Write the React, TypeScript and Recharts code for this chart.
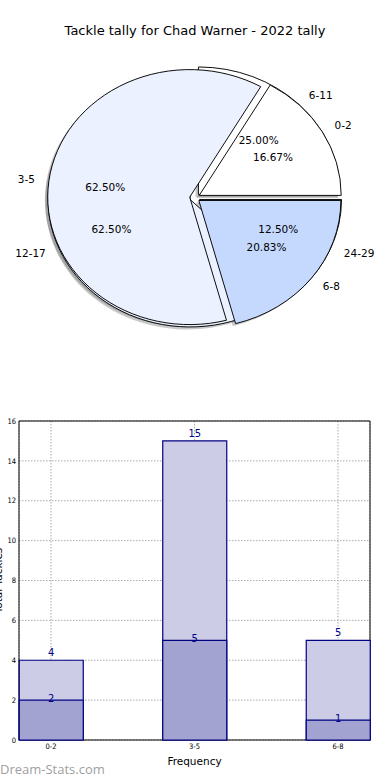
import React from 'react';
import {
  PieChart,
  Pie,
  Cell,
  BarChart,
  Bar,
  XAxis,
  YAxis,
  CartesianGrid,
  LabelList,
  ReferenceArea,
} from 'recharts';

// ---------- data ----------
const chartTitle = 'Tackle tally for Chad Warner - 2022 tally';
const outerCategories = ['0-2', '3-5', '6-8'];
const outerValues = [4, 15, 5];
const innerCategories = ['6-11', '12-17', '24-29'];
const innerValues = [2, 5, 1];
const sliceColors = ['#ffffff', '#ebf1ff', '#c5d9ff'];
const yTicks = [0, 2, 4, 6, 8, 10, 12, 14, 16];
const xTickPositions = [0, 1, 2];
const xAxisLabel = 'Frequency';
const yAxisLabel = 'Total Tackles';
const watermark = 'Dream-Stats.com';

// ---------- styling / geometry ----------
const FONT = "'DejaVu Sans', sans-serif";
const COND = "'DejaVu Sans Condensed', 'DejaVu Sans', sans-serif";
const R = 142;
const K = 127.5 / 142; // vertical squash of the pie
const CX = 194.8;
const CY = 197.7 / K;
const EXPLODE = 0.036;
const SHADOW = 0.02;
const RAD = Math.PI / 180;
const PIE_H = 400 / K;

const outerRows = outerCategories.map((name, i) => ({ name, value: outerValues[i] }));
const innerRows = innerCategories.map((name, i) => ({ name, value: innerValues[i] }));
const barRows = outerCategories.map((name, i) => ({
  pos: xTickPositions[i],
  name,
  total: outerValues[i],
  part: innerValues[i],
}));

function midAngles(values: number[]) {
  const total = values.reduce((a, b) => a + b, 0);
  let acc = 0;
  return values.map((v) => {
    const m = ((acc + v / 2) / total) * 360;
    acc += v;
    return m;
  });
}

function slicePies(prefix: string, rows: any[], values: number[], mode: 'shadow' | 'wedge') {
  const mids = midAngles(values);
  return mids.map((m, i) => {
    const ox = EXPLODE * R * Math.cos(m * RAD) + (mode === 'shadow' ? -SHADOW * R : 0);
    const oy = -EXPLODE * R * Math.sin(m * RAD) + (mode === 'shadow' ? SHADOW * R : 0);
    return (
      <Pie
        key={`${prefix}-${mode}-${i}`}
        data={rows}
        dataKey="value"
        nameKey="name"
        cx={CX + ox}
        cy={CY + oy}
        innerRadius={0}
        outerRadius={R}
        startAngle={0}
        endAngle={360}
        isAnimationActive={false}
        label={false}
        labelLine={false}
      >
        {rows.map((_r, j) => (
          <Cell
            key={j}
            fill={j === i ? (mode === 'shadow' ? '#4d4d4d' : sliceColors[j]) : 'none'}
            fillOpacity={mode === 'shadow' ? 0.3 : 1}
            stroke={j === i && mode === 'wedge' ? '#000' : 'none'}
            strokeWidth={1}
          />
        ))}
      </Pie>
    );
  });
}

const renderPieLabel = (props: any) => {
  const { cx, cy, midAngle, percent, name } = props;
  const c = Math.cos(midAngle * RAD);
  const s = Math.sin(midAngle * RAD);
  const ecx = cx + EXPLODE * R * c;
  const ecy = cy - EXPLODE * R * s;
  const lx = ecx + 1.1 * R * c;
  const ly = ecy - 1.1 * R * s;
  const px = ecx + 0.6 * R * c;
  const py = ecy - 0.6 * R * s;
  return (
    <g>
      <text
        transform={`translate(${lx},${ly}) scale(1,${1 / K})`}
        textAnchor={c > 0 ? 'start' : 'end'}
        dominantBaseline="central"
        fontSize={10.5}
        fontFamily={FONT}
        fill="#000"
      >
        {name}
      </text>
      <text
        transform={`translate(${px},${py}) scale(1,${1 / K})`}
        textAnchor="middle"
        dominantBaseline="central"
        fontSize={10.5}
        fontFamily={FONT}
        fill="#000"
      >
        {(percent * 100).toFixed(2) + '%'}
      </text>
    </g>
  );
};

function labelPie(key: string, rows: any[]) {
  return (
    <Pie
      key={key}
      data={rows}
      dataKey="value"
      nameKey="name"
      cx={CX}
      cy={CY}
      innerRadius={0}
      outerRadius={R}
      startAngle={0}
      endAngle={360}
      isAnimationActive={false}
      label={renderPieLabel}
      labelLine={false}
    >
      {rows.map((_r, j) => (
        <Cell key={j} fill="none" stroke="none" />
      ))}
    </Pie>
  );
}

const renderYLabel = (props: any) => {
  const vb = props.viewBox || { x: 0, y: 421, width: 19, height: 319 };
  const x = vb.x - 2;
  const y = vb.y + vb.height / 2;
  return (
    <text
      x={x}
      y={y}
      transform={`rotate(-90 ${x} ${y})`}
      textAnchor="middle"
      dominantBaseline="central"
      fontSize={10.5}
      fontFamily={FONT}
      fill="#000"
    >
      {yAxisLabel}
    </text>
  );
};

export default function App() {
  return (
    <div
      style={{
        position: 'absolute',
        left: 0,
        top: 0,
        width: 390,
        height: 780,
        background: '#fff',
        overflow: 'hidden',
        fontFamily: FONT,
      }}
    >
      <div
        style={{
          position: 'absolute',
          left: 0,
          top: 23.5,
          width: 390,
          textAlign: 'center',
          fontSize: 13,
          lineHeight: '13px',
          fontFamily: FONT,
          color: '#000',
        }}
      >
        {chartTitle}
      </div>

      <div
        style={{
          position: 'absolute',
          left: 0,
          top: 0,
          width: 390,
          height: PIE_H,
          transform: `scale(1, ${K})`,
          transformOrigin: '0 0',
        }}
      >
        <PieChart width={390} height={PIE_H} margin={{ top: 0, right: 0, bottom: 0, left: 0 }}>
          {slicePies('inner', innerRows, innerValues, 'shadow')}
          {slicePies('outer', outerRows, outerValues, 'shadow')}
          {slicePies('inner', innerRows, innerValues, 'wedge')}
          {slicePies('outer', outerRows, outerValues, 'wedge')}
          {labelPie('lbl-inner', innerRows)}
          {labelPie('lbl-outer', outerRows)}
        </PieChart>
      </div>

      <div style={{ position: 'absolute', left: 0, top: 400 }}>
        <BarChart
          width={390}
          height={380}
          data={barRows}
          margin={{ top: 21, right: 20, bottom: 15, left: 0 }}
        >
          <XAxis
            xAxisId="a"
            dataKey="pos"
            type="number"
            domain={[-0.223, 2.223]}
            ticks={xTickPositions}
            tickFormatter={(v: number) => outerCategories[v] ?? ''}
            height={25}
            tickSize={3}
            tickMargin={1}
            tickLine={false}
            axisLine={false}
            tick={{ fontSize: 7.5, fontFamily: COND, fill: '#000' }}
            label={{ value: xAxisLabel, position: 'insideBottom', offset: 0, fontSize: 10.5, fontFamily: FONT, fill: '#000' }}
          />
          <XAxis
            xAxisId="b"
            dataKey="pos"
            type="number"
            domain={[-0.223, 2.223]}
            ticks={xTickPositions}
            hide
          />
          <YAxis
            type="number"
            domain={[0, 16]}
            ticks={yTicks}
            width={19}
            tickSize={3}
            tickMargin={0}
            tickLine={false}
            axisLine={false}
            interval={0}
            tick={{ fontSize: 7.5, fontFamily: COND, fill: '#000' }}
            label={renderYLabel}
          />
          <Bar
            xAxisId="a"
            dataKey="total"
            barSize={64}
            fill="#cccce6"
            stroke="#000080"
            strokeWidth={1.2}
            isAnimationActive={false}
          >
            <LabelList dataKey="total" position="top" offset={4} fill="#00008b" fontSize={11} fontFamily={COND} />
          </Bar>
          <Bar
            xAxisId="b"
            dataKey="part"
            barSize={64}
            fill="#a3a3d1"
            stroke="#000080"
            strokeWidth={1.2}
            isAnimationActive={false}
          >
            <LabelList dataKey="part" position="top" offset={-2} fill="#00008b" fontSize={11} fontFamily={COND} />
          </Bar>
          <CartesianGrid xAxisId="a" stroke="#aaaaaa" strokeDasharray="1.5 1.5" />
          <ReferenceArea
            xAxisId="a"
            x1={-0.223}
            x2={2.223}
            y1={0}
            y2={16}
            fill="none"
            stroke="#000"
            strokeWidth={1}
            ifOverflow="visible"
          />
        </BarChart>
      </div>

      <div
        style={{
          position: 'absolute',
          left: 0,
          top: 763,
          fontFamily: "'Open Sans', sans-serif",
          fontSize: 13,
          lineHeight: '13px',
          color: '#a0a0a0',
        }}
      >
        {watermark}
      </div>
    </div>
  );
}
